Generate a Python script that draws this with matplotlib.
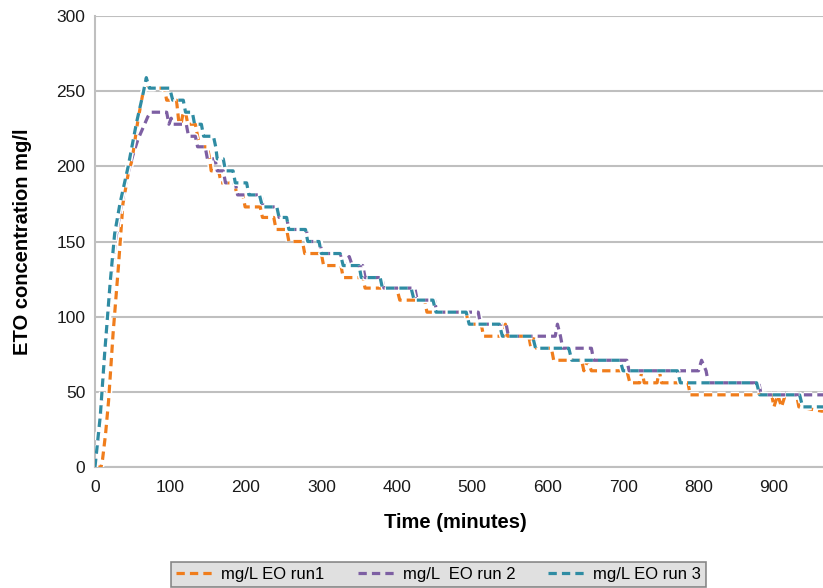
import matplotlib
matplotlib.use("Agg")
import matplotlib.pyplot as plt
import matplotlib.patheffects as pe

plt.rcParams['font.family'] = ['Liberation Sans', 'DejaVu Sans']

# ---- data ----
run1_t = [0, 8, 10, 14, 18, 24, 31, 37, 44, 49, 57, 64, 67, 92, 95, 108, 111, 114, 117, 120, 123, 133,
          136, 139, 149, 152, 154, 164, 167, 185, 188, 196, 199, 219, 222, 237, 240, 254, 257, 275, 278,
          300, 303, 326, 329, 355, 358, 400, 404, 437, 440, 492, 495, 512, 515, 542, 544, 547, 575, 578,
          582, 585, 605, 608, 645, 648, 653, 658, 705, 709, 722, 725, 728, 745, 748, 751, 786, 789, 897,
          900, 905, 910, 915, 930, 933, 965]
run1_v = [0, 0, 5, 22, 44, 89, 133, 175, 195, 204, 231, 250, 252, 252, 244, 244, 230, 228, 236, 236, 228, 228,
          220, 213, 213, 205, 197, 197, 189, 189, 181, 181, 173, 173, 166, 166, 158, 158, 150, 150, 142,
          142, 134, 134, 126, 126, 119, 119, 111, 111, 103, 103, 95, 95, 87, 87, 95, 87, 87, 79,
          87, 79, 79, 71, 71, 64, 71, 64, 64, 56, 56, 64, 56, 56, 64, 56, 56, 48, 48,
          40, 48, 40, 48, 48, 40, 37]

run2_t = [0, 7, 13, 20, 27, 34, 42, 50, 57, 64, 70, 74, 95, 98, 101, 104, 121, 124, 133, 136, 146, 149,
          159, 162, 170, 173, 186, 189, 220, 223, 241, 244, 254, 257, 280, 283, 298, 301, 325, 328, 337,
          341, 355, 358, 380, 383, 424, 427, 450, 453, 508, 511, 545, 548, 610, 613, 617, 620, 658, 661,
          705, 708, 800, 804, 810, 813, 880, 883, 965]
run2_v = [0, 30, 72, 116, 150, 172, 192, 207, 218, 226, 233, 236, 236, 228, 232, 228, 228, 220, 220, 213, 213, 205,
          205, 197, 197, 189, 189, 181, 181, 173, 173, 166, 166, 158, 158, 150, 150, 142, 142, 134, 140,
          134, 134, 126, 126, 119, 119, 111, 111, 103, 103, 95, 95, 87, 87, 95, 87, 79, 79, 71,
          71, 64, 64, 71, 64, 56, 56, 48, 48]

run3_t = [0, 7, 13, 20, 26, 33, 44, 55, 64, 68, 72, 99, 103, 117, 120, 129, 132, 141, 144, 157, 160, 162,
          170, 173, 183, 186, 201, 204, 218, 222, 241, 244, 254, 257, 279, 282, 297, 300, 325, 329, 350,
          353, 378, 381, 419, 423, 448, 452, 492, 496, 536, 540, 580, 584, 628, 632, 696, 700, 772, 776,
          877, 881, 934, 938, 965]
run3_v = [0, 34, 77, 122, 155, 175, 200, 229, 249, 259, 252, 252, 244, 244, 236, 236, 228, 228, 220, 220, 213, 205,
          205, 197, 197, 189, 189, 181, 181, 173, 173, 166, 166, 158, 158, 150, 150, 142, 142, 134, 134,
          126, 126, 119, 119, 111, 111, 103, 103, 95, 95, 87, 87, 79, 79, 71, 71, 64, 64, 56,
          56, 48, 48, 40, 40]

labels = ['mg/L EO run1', 'mg/L  EO run 2', 'mg/L EO run 3']
colors = ['#F07D1C', '#7D5FA3', '#2F8CA3']
x_ticks = list(range(0, 1000, 100))
y_ticks = list(range(0, 301, 50))

# ---- figure ----
fig = plt.figure(figsize=(8.23, 5.88), dpi=100)
ax = fig.add_axes([95/823, 1-467/588, 1-95/823, (467-16)/588])

halo = [pe.withStroke(linewidth=4.5, foreground='white')]
for t, v, lab, c in zip([run1_t, run2_t, run3_t], [run1_v, run2_v, run3_v], labels, colors):
    ax.plot(t, v, color=c, lw=2.3, linestyle=(0, (2.6, 1.6)), label=lab,
            path_effects=halo, dash_capstyle='butt', zorder=3)

ax.set_xlim(0, 965)
ax.set_ylim(0, 300)
ax.set_xticks(x_ticks)
ax.set_yticks(y_ticks)
ax.tick_params(axis='both', length=0, labelsize=12.5, colors='#1a1a1a')
ax.tick_params(axis='y', pad=7)
ax.tick_params(axis='x', pad=9)
ax.grid(axis='y', color='#BFBFBF', lw=1.5, zorder=0)
ax.set_axisbelow(True)
for s in ['top', 'right']:
    ax.spines[s].set_visible(False)
for s in ['left', 'bottom']:
    ax.spines[s].set_color('#BFBFBF')
    ax.spines[s].set_linewidth(1.5)

ax.set_xlabel('Time (minutes)', fontsize=14.5, fontweight='bold')
ax.set_ylabel('ETO concentration mg/l', fontsize=14.5, fontweight='bold')
ax.xaxis.set_label_coords(0.495, -0.102)
ax.yaxis.set_label_coords(-0.086, 0.5)

leg = fig.legend(loc='upper center', bbox_to_anchor=(0.533, 1-562/588), ncol=3,
                 fontsize=12, frameon=True, fancybox=False, handlelength=2.2,
                 columnspacing=2.0, handletextpad=0.5, borderpad=0.3, borderaxespad=0)
leg.get_frame().set_facecolor('#D9D9D9')
leg.get_frame().set_edgecolor('#6E6E6E')
leg.get_frame().set_linewidth(1.2)
for h in leg.get_lines():
    h.set_path_effects([])

fig.savefig('out.png', dpi=100)
